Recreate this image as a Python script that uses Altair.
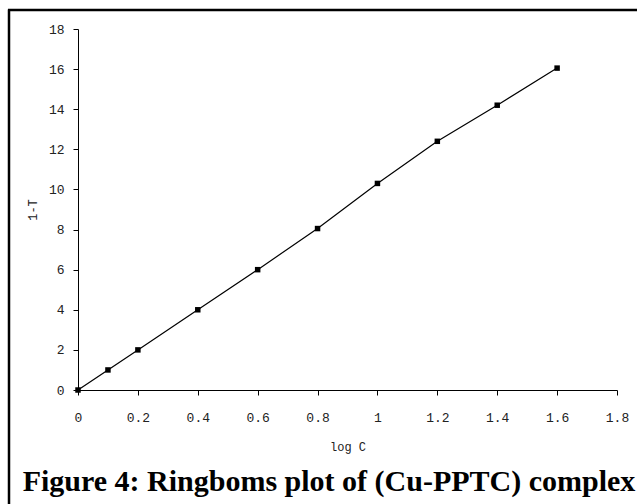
import altair as alt
import pandas as pd

log_c = [0, 0.1, 0.2, 0.4, 0.6, 0.8, 1.0, 1.2, 1.4, 1.6]
one_minus_t = [0, 1.0, 2.0, 4.0, 6.0, 8.05, 10.3, 12.4, 14.2, 16.05]
caption = "Figure 4: Ringboms plot of (Cu-PPTC) complex"

df = pd.DataFrame({"logC": log_c, "T": one_minus_t})

MONO = "Liberation Mono"

base = alt.Chart(df)

line = base.mark_line(color="black", strokeWidth=1.2).encode(
    x=alt.X("logC:Q",
            scale=alt.Scale(domain=[0, 1.8], nice=False, zero=False),
            axis=alt.Axis(values=[0, 0.2, 0.4, 0.6, 0.8, 1.0, 1.2, 1.4, 1.6, 1.8],
                          format="~g",
                          title="log C", labelFlush=False,
                          titleX=269.5, titleY=56, titleBaseline="middle",
                          labelPadding=16, tickSize=5)),
    y=alt.Y("T:Q",
            scale=alt.Scale(domain=[0, 18], nice=False),
            axis=alt.Axis(values=list(range(0, 19, 2)), title="1-T",
                          labelFlush=False, titleX=-46, titleY=180.5,
                          titleBaseline="middle", labelPadding=9, tickSize=5)),
)

points = base.mark_square(color="black", size=30, opacity=1).encode(
    x="logC:Q", y="T:Q"
)

border_df = pd.DataFrame({"k": [0]})
left_border = alt.Chart(border_df).mark_rule(color="black", strokeWidth=2.5).encode(
    x=alt.value(-69), y=alt.value(-19.5), y2=alt.value(480)
)
top_border = alt.Chart(border_df).mark_rule(color="black", strokeWidth=2.5).encode(
    x=alt.value(-70), x2=alt.value(570), y=alt.value(-19)
)
cap = alt.Chart(pd.DataFrame({"t": [caption]})).mark_text(
    font="Liberation Serif", fontWeight="bold", fontSize=30, color="black",
    align="center", baseline="alphabetic"
).encode(x=alt.value(251), y=alt.value(462), text="t:N")

chart = alt.layer(line, points, left_border, top_border, cap).properties(
    width=539, height=361,
    autosize=alt.AutoSizeParams(type="none"),
    padding={"left": 78, "top": 29, "right": 20, "bottom": 114},
).configure_view(stroke=None).configure_axis(
    grid=False, domainColor="black", tickColor="black", domainWidth=1,
    labelFont=MONO, titleFont=MONO, labelFontSize=13, titleFontSize=12,
    labelColor="#222", titleColor="#222", titleFontWeight="normal",
)

chart.save("out.html", embed_options={"renderer": "svg", "actions": False})
